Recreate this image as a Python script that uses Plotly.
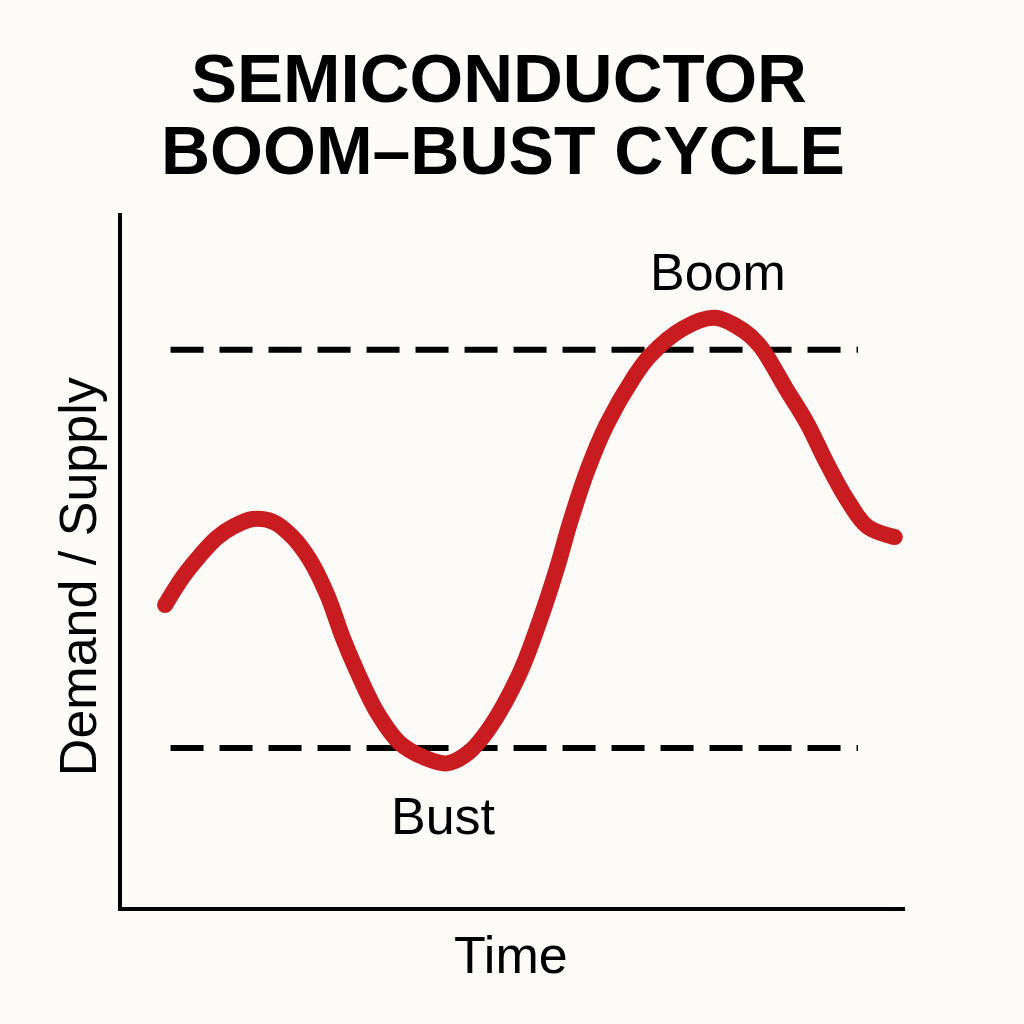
import plotly.graph_objects as go

# Curve values (time units 0-100, demand/supply level 0-100)
time_pts = [5.5, 7.8, 10.0, 12.1, 14.2, 16.7, 19.3, 21.8, 24.0, 26.2, 28.2, 30.0,
            32.6, 35.5, 38.7, 41.5, 44.2, 47.0, 50.8, 53.4, 55.6, 57.2, 59.4, 61.9,
            65.3, 67.4, 71.7, 75.7, 79.3, 81.5, 84.9, 87.5, 90.0, 92.6, 95.2, 98.7]
level_pts = [43.5, 47.6, 50.7, 53.2, 54.8, 55.9, 55.5, 53.3, 50.0, 45.0, 38.8, 34.0,
             28.0, 23.6, 21.5, 20.7, 22.2, 25.9, 33.7, 41.4, 49.0, 55.3, 62.8, 69.5,
             76.2, 79.4, 83.4, 84.9, 83.1, 80.8, 74.5, 69.7, 64.0, 58.7, 54.8, 53.3]

# Reference levels
boom_level = 80.3
bust_level = 22.9
ref_x = [6.2, 94.0]

# Label positions
boom_label = (76.1, 91.5, "Boom")
bust_label = (41.1, 13.1, "Bust")

title_lines = ["SEMICONDUCTOR", "BOOM–BUST CYCLE"]
x_title = "Time"
y_title = "Demand / Supply"

BG = "#FCFBF7"
RED = "#C81C20"
LABEL_FONT = "Liberation Sans, Arial, sans-serif"

fig = go.Figure()
for lvl in (boom_level, bust_level):
    fig.add_trace(go.Scatter(x=ref_x, y=[lvl, lvl], mode="lines",
                             line=dict(color="#000000", width=6, dash="33px,16px"),
                             hoverinfo="skip", showlegend=False))

# round end caps for the curve
fig.add_trace(go.Scatter(x=[time_pts[0], time_pts[-1]], y=[level_pts[0], level_pts[-1]],
                         mode="markers",
                         marker=dict(color=RED, size=16, opacity=1, line=dict(width=0)),
                         hoverinfo="skip", showlegend=False))

fig.add_trace(go.Scatter(x=time_pts, y=level_pts, mode="lines",
                         line=dict(color=RED, width=16, shape="spline", smoothing=1.0),
                         hoverinfo="skip", showlegend=False))

annotations = []
for (x, y, t) in (boom_label, bust_label):
    annotations.append(dict(x=x, y=y, xref="x", yref="y", text=t, showarrow=False,
                            font=dict(family=LABEL_FONT, size=52, color="#000"),
                            xanchor="center", yanchor="middle"))

annotations.append(dict(x=0.482, y=1.1945, xref="paper", yref="paper", text=title_lines[0],
                        showarrow=False, xanchor="center", yanchor="middle",
                        font=dict(family="Liberation Sans, Arial", size=69, color="#000", weight="bold")))
annotations.append(dict(x=0.4866, y=1.0908, xref="paper", yref="paper", text=title_lines[1],
                        showarrow=False, xanchor="center", yanchor="middle",
                        font=dict(family="Liberation Sans, Arial", size=68, color="#000", weight="bold")))
annotations.append(dict(x=0.497, y=-0.069, xref="paper", yref="paper", text=x_title,
                        showarrow=False, xanchor="center", yanchor="middle",
                        font=dict(family=LABEL_FONT, size=52, color="#000")))
annotations.append(dict(x=-0.056, y=0.4755, xref="paper", yref="paper", text=y_title,
                        showarrow=False, xanchor="center", yanchor="middle", textangle=-90,
                        font=dict(family=LABEL_FONT, size=52, color="#000")))

fig.update_layout(
    width=1024, height=1024,
    paper_bgcolor=BG, plot_bgcolor=BG,
    margin=dict(l=122, r=119, t=213, b=117),
    showlegend=False,
    annotations=annotations,
    xaxis=dict(range=[0, 100], showgrid=False, zeroline=False, showticklabels=False,
               ticks="", showline=True, linecolor="#000", linewidth=4, fixedrange=True),
    yaxis=dict(range=[0, 100], showgrid=False, zeroline=False, showticklabels=False,
               ticks="", showline=True, linecolor="#000", linewidth=4, fixedrange=True),
)

fig.write_html("out.html", config={"displayModeBar": False})

# remove default page margin so the figure fills the window exactly
with open("out.html", "r", encoding="utf-8") as f:
    html = f.read()
html = html.replace("<body>", f'<body style="margin:0;padding:0;background:{BG};">', 1)
with open("out.html", "w", encoding="utf-8") as f:
    f.write(html)
